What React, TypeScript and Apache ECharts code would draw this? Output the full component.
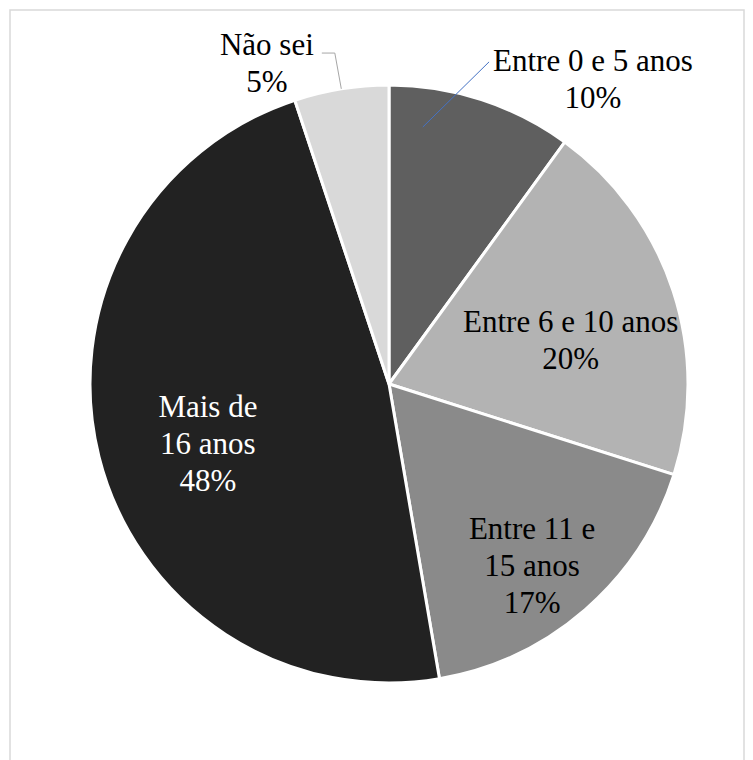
import React, { useEffect, useRef } from 'react';
import * as echarts from 'echarts';

const categories = ['Entre 0 e 5 anos', 'Entre 6 e 10 anos', 'Entre 11 e 15 anos', 'Mais de 16 anos', 'Não sei'];
const values = [10.0, 19.9, 17.4, 47.6, 5.1];
const colors = ['#5f5f5f', '#b3b3b3', '#8a8a8a', '#222222', '#d9d9d9'];
const wrappedNames: Record<string, string[]> = {
  'Entre 11 e 15 anos': ['Entre 11 e', '15 anos'],
  'Mais de 16 anos': ['Mais de', '16 anos'],
};
// label placement: [angle clockwise from top (deg), radius fraction]
const labelPlacement = [
  [33.8, 1.226],
  [76.4, 0.625],
  [141.7, 0.772],
  [251.7, 0.638],
  [339.2, 1.15],
];
const labelColors = ['#000000', '#000000', '#000000', '#ffffff', '#000000'];

const CX = 389;
const CY = 384;
const R = 299;
const FONT_SIZE = 31;
const LINE_H = 37;
const FONT = 'Liberation Serif';

function polar(angleDeg: number, frac: number): number[] {
  const a = (angleDeg * Math.PI) / 180;
  return [CX + frac * R * Math.sin(a), CY - frac * R * Math.cos(a)];
}

function measure(text: string): number {
  const c = document.createElement('canvas').getContext('2d');
  if (!c) return text.length * FONT_SIZE * 0.45;
  c.font = FONT_SIZE + 'px "' + FONT + '", serif';
  return c.measureText(text).width;
}

export default function App() {
  const ref = useRef<HTMLDivElement>(null);
  useEffect(() => {
    if (!ref.current) return;
    const chart = echarts.init(ref.current, undefined, { renderer: 'svg' });
    const total = values.reduce((s, v) => s + v, 0);
    const lastStart = values.slice(0, 4).reduce((s, v) => s + v, 0);
    const lastMid = ((lastStart + values[4] / 2) / total) * 360;

    const graphics: any[] = [
      {
        type: 'rect',
        shape: { x: 10, y: 10, width: 734, height: 800 },
        style: { fill: 'none', stroke: '#d9d9d9', lineWidth: 1.5 },
        silent: true,
      },
    ];

    categories.forEach((name, i) => {
      const lines = [...(wrappedNames[name] || [name]), Math.round((values[i] / total) * 100) + '%'];
      const [x, y] = polar(labelPlacement[i][0], labelPlacement[i][1]);
      const y0 = y - ((lines.length - 1) * LINE_H) / 2;
      lines.forEach((t, k) => {
        graphics.push({
          type: 'text',
          x,
          y: y0 + k * LINE_H,
          z: 10,
          silent: true,
          style: {
            text: t,
            fontFamily: FONT,
            fontSize: FONT_SIZE,
            fill: labelColors[i],
            align: 'center',
            verticalAlign: 'middle',
            textAlign: 'center',
            textVerticalAlign: 'middle',
          },
        });
      });
      const w = Math.max(...lines.map(measure));
      if (i === 0) {
        graphics.push({
          type: 'polyline',
          z: 9,
          silent: true,
          shape: { points: [[x - w / 2 - 4, y0 + 1], polar(7.5, 0.867)] },
          style: { stroke: '#4472c4', lineWidth: 1, fill: 'none' },
        });
      }
      if (i === 4) {
        graphics.push({
          type: 'polyline',
          z: 9,
          silent: true,
          shape: {
            points: [
              [x + w / 2 + 8, y0 + 9],
              [x + w / 2 + 21, y0 + 9],
              polar(lastMid, 1.0),
            ],
          },
          style: { stroke: '#a6a6a6', lineWidth: 1, fill: 'none' },
        });
      }
    });

    chart.setOption({
      animation: false,
      backgroundColor: '#ffffff',
      graphic: graphics,
      series: [
        {
          type: 'pie',
          center: [CX, CY],
          radius: [0, R],
          startAngle: 90,
          clockwise: true,
          itemStyle: { borderColor: '#ffffff', borderWidth: 3 },
          label: { show: false },
          labelLine: { show: false },
          emphasis: { disabled: true },
          data: categories.map((name, i) => ({
            name,
            value: values[i],
            itemStyle: { color: colors[i] },
          })),
        },
      ],
    });
    return () => chart.dispose();
  }, []);
  return (
    <div
      ref={ref}
      style={{ position: 'absolute', left: 0, top: 0, width: 753, height: 760, background: '#fff' }}
    />
  );
}
